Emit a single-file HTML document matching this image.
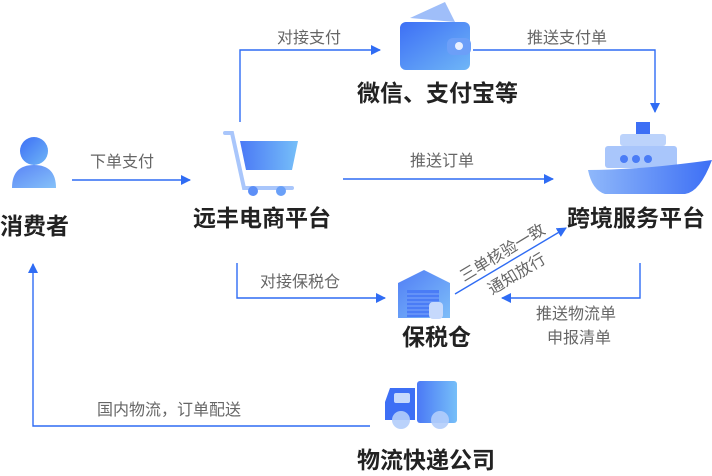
<!DOCTYPE html>
<html><head><meta charset="utf-8"><style>
body{margin:0;background:#fff;width:712px;height:476px;overflow:hidden}
svg{display:block}
.l{font-family:"Liberation Sans","Noto Sans CJK SC",sans-serif;font-size:16px;fill:#666}
.t{font-family:"Liberation Sans","Noto Sans CJK SC",sans-serif;font-size:23px;font-weight:bold;fill:#222}
</style></head><body>
<svg width="712" height="476" viewBox="0 0 712 476" xmlns="http://www.w3.org/2000/svg">
<defs>
<linearGradient id="g" x1="0" y1="0" x2="1" y2="1"><stop offset="0" stop-color="#3d6ff5"/><stop offset="1" stop-color="#6fb6f7"/></linearGradient>
<linearGradient id="g2" x1="0" y1="0" x2="1" y2="0"><stop offset="0" stop-color="#4b79f6"/><stop offset="1" stop-color="#76bff8"/></linearGradient>
<linearGradient id="gs" x1="0" y1="0" x2="1" y2="0"><stop offset="0" stop-color="#8fb8fa"/><stop offset="1" stop-color="#3d6ff5"/></linearGradient>
<marker id="a" markerWidth="10" markerHeight="10" refX="9" refY="5" orient="auto" markerUnits="userSpaceOnUse"><path d="M0,0 L10,5 L0,10z" fill="#2f6cf4"/></marker>
</defs>
<g stroke="#2f6cf4" stroke-width="1.4" fill="none">
<path d="M72 180 H190" marker-end="url(#a)"/>
<path d="M240 122 V50 H380" marker-end="url(#a)"/>
<path d="M473 50 H655 V112" marker-end="url(#a)"/>
<path d="M343 179 H553" marker-end="url(#a)"/>
<path d="M237 263 V298 H385" marker-end="url(#a)"/>
<path d="M640 263 V298 H502" marker-end="url(#a)"/>
<path d="M455 294 L566 228" marker-end="url(#a)"/>
<path d="M370 426 H33 V264" marker-end="url(#a)"/>
</g>
<circle cx="34" cy="151" r="14" fill="url(#g)"/>
<path d="M12 188 Q12 165 34 165 Q56 165 56 188 Z" fill="url(#g)" opacity="0.85"/>
<path d="M225 133 H232 L244 188 H292" stroke="#a9c6fb" stroke-width="4" fill="none" stroke-linecap="round"/>
<path d="M240 141 H298 L292 170 H246 Z" fill="url(#g2)"/>
<circle cx="253" cy="191" r="5" fill="#5d8ff7"/><circle cx="281" cy="191" r="5" fill="#6aa0f8"/>
<path d="M410 18 L445 2 L455 22 Z" fill="#9fbef9"/>
<rect x="400" y="22" width="70" height="48" rx="6" fill="url(#g)"/>
<rect x="447" y="38" width="24" height="17" rx="6" fill="#6c9ff8"/>
<circle cx="459" cy="46" r="4" fill="#e9f0ff"/>
<rect x="636" y="122" width="14" height="12" fill="#3d6ff5"/>
<rect x="620" y="134" width="46" height="12" rx="3" fill="#bcd3fb"/>
<rect x="605" y="146" width="72" height="22" rx="3" fill="#a9c6fb"/>
<circle cx="624" cy="159" r="4" fill="#4a7cf6"/><circle cx="636" cy="159" r="4" fill="#4a7cf6"/><circle cx="648" cy="159" r="4" fill="#4a7cf6"/>
<path d="M588 170 Q640 170 712 160 Q700 192 685 194 H605 Q592 190 588 170 Z" fill="url(#gs)"/>
<path d="M398 283 L424 270 L450 283 V318 H398 Z" fill="url(#g)" opacity="0.9"/>
<rect x="407" y="290" width="32" height="27" fill="#4a7cf6"/>
<g stroke="#7fa8f9" stroke-width="1"><path d="M407 294H439M407 298H439M407 302H439M407 306H439M407 310H439M407 314H439"/></g>
<rect x="429" y="302" width="14" height="17" rx="4" fill="#c6d9fc"/>
<rect x="417" y="381" width="40" height="42" rx="3" fill="url(#g2)"/>
<path d="M390 388 H415 V420 H385 V402 Z" fill="#3d6ff5"/>
<rect x="394" y="393" width="16" height="10" rx="2" fill="#c6d9fc"/>
<circle cx="401" cy="420" r="9" fill="#b3cdfb" opacity="0.9"/><circle cx="440" cy="420" r="9" fill="#b3cdfb" opacity="0.9"/>
<text class="l" x="90" y="167">下单支付</text>
<text class="l" x="277" y="43">对接支付</text>
<text class="l" x="527" y="43">推送支付单</text>
<text class="l" x="410" y="166">推送订单</text>
<text class="l" x="260" y="287">对接保税仓</text>
<text class="l" x="536" y="319">推送物流单</text>
<text class="l" x="547" y="343">申报清单</text>
<text class="l" x="97" y="415">国内物流，订单配送</text>
<text class="l" transform="translate(464 282) rotate(-31)">三单核验一致</text>
<text class="l" transform="translate(492 295) rotate(-31)">通知放行</text>
<text class="t" x="0" y="234">消费者</text>
<text class="t" x="193" y="226">远丰电商平台</text>
<text class="t" x="357" y="101">微信、支付宝等</text>
<text class="t" x="567" y="226">跨境服务平台</text>
<text class="t" x="402" y="345">保税仓</text>
<text class="t" x="357" y="468">物流快递公司</text>
</svg>
</body></html>
